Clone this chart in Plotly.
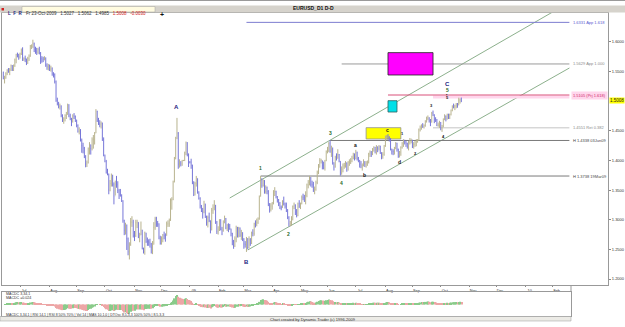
import numpy as np
import pandas as pd
import plotly.graph_objects as go

# ---------------- DATA ----------------
# Daily EURUSD bars, values in pips above 1.0000 (price = 1 + v / 10000)
close_pips = [
    # Jun 2008 (from 12th)
    5380, 5390, 5470, 5520, 5500, 5530, 5600, 5540, 5600, 5700, 5790, 5780, 5750,
    # Jul 2008
    5800, 5860, 5700, 5720, 5710, 5640, 5720, 5760, 5930, 5930, 5970, 5880, 5850, 5830, 5870, 5810, 5720, 5710, 5710, 5730, 5610, 5580, 5600,
    # Aug 2008
    5540, 5560, 5460, 5450, 5330, 5010, 4960, 4910, 4920, 4760, 4680, 4700, 4760, 4780, 4940, 4750, 4700, 4660, 4750, 4740, 4680,
    # Sep 2008
    4590, 4490, 4510, 4340, 4250, 4210, 4070, 3940, 3960, 4200, 4270, 4200, 4350, 4360, 4460, 4830, 4680, 4620, 4610, 4630, 4350, 4090,
    # Oct 2008
    3980, 3790, 3770, 3500, 3610, 3690, 3590, 3400, 3600, 3590, 3490, 3420, 3410, 3320, 2990, 2820, 2910, 2680, 2460, 2580, 2960, 2960, 2730,
    # Nov 2008
    2730, 2950, 2960, 2710, 2740, 2830, 2510, 2460, 2780, 2630, 2630, 2620, 2590, 2530, 2580, 2870, 3020, 2930, 2930, 2690,
    # Dec 2008
    2600, 2680, 2740, 2730, 2730, 2930, 2930, 2990, 3330, 3340, 3640, 4030, 4380, 4460, 3940, 3960, 3940, 4000, 4000, 4130, 4300, 4100, 3970,
    # Jan 2009
    3970, 3920, 3620, 3420, 3610, 3700, 3470, 3360, 3230, 3140, 3130, 3270, 3050, 2950, 3040, 2990, 2830, 3160, 3200, 3250, 2950, 2800,
    # Feb 2009
    2830, 2990, 2840, 2810, 2960, 3020, 2860, 2900, 2890, 2850, 2770, 2630, 2560, 2680, 2860, 2730, 2860, 2740, 2780, 2670,
    # Mar 2009
    2590, 2580, 2680, 2530, 2660, 2600, 2780, 2770, 2930, 2920, 2950, 3020, 3390, 3690, 3580, 3660, 3480, 3540, 3480, 3270, 3170, 3230,
    # Apr 2009
    3270, 3470, 3480, 3390, 3330, 3270, 3200, 3200, 3310, 3270, 3230, 3150, 3040, 2930, 2960, 3000, 3230, 3250, 3130, 3070, 3270, 3230,
    # May 2009
    3270, 3380, 3370, 3330, 3410, 3590, 3630, 3710, 3600, 3590, 3480, 3510, 3630, 3800, 3880, 4000, 4000, 3920, 3870, 3990, 4150,
    # Jun 2009
    4170, 4290, 4160, 4190, 3960, 3890, 4050, 4040, 4100, 3990, 3790, 3850, 3910, 3910, 3950, 3840, 3970, 3970, 3990, 4040, 4090, 4030,
    # Jul 2009
    4130, 4030, 4000, 3940, 3910, 3920, 3960, 3940, 3960, 3970, 4110, 4130, 4110, 4190, 4220, 4180, 4220, 4200, 4240, 4130, 4070, 4100, 4250,
    # Aug 2009
    4400, 4410, 4390, 4360, 4190, 4150, 4150, 4210, 4290, 4190, 4070, 4140, 4220, 4290, 4330, 4310, 4290, 4230, 4310, 4330, 4340,
    # Sep 2009
    4240, 4270, 4300, 4320, 4340, 4520, 4550, 4600, 4570, 4590, 4660, 4710, 4720, 4670, 4640, 4800, 4770, 4700, 4680, 4590, 4600, 4640,
    # Oct 2009 (to 23rd)
    4530, 4580, 4700, 4750, 4700, 4780, 4720, 4780, 4850, 4920, 4900, 4920, 4950, 4940, 5020, 5038, 5008,
]
high_pips = [
    5500, 5430, 5490, 5540, 5560, 5560, 5620, 5610, 5620, 5720, 5800, 5820, 5800,
    5820, 5890, 5910, 5740, 5770, 5720, 5750, 5790, 5950, 5960, 6038, 5990, 5920, 5900, 5900, 5920, 5830, 5760, 5750, 5760, 5740, 5640, 5630,
    5620, 5600, 5570, 5490, 5470, 5350, 5060, 4990, 4960, 4930, 4780, 4730, 4780, 4820, 4960, 4950, 4790, 4720, 4780, 4800, 4760,
    4690, 4610, 4560, 4530, 4370, 4300, 4230, 4090, 4000, 4220, 4310, 4270, 4390, 4430, 4480, 4867, 4840, 4720, 4680, 4660, 4640, 4390,
    4100, 4010, 3860, 3780, 3670, 3780, 3760, 3630, 3660, 3740, 3650, 3520, 3520, 3430, 3330, 3000, 2950, 2920, 2700, 2620, 3030, 3060, 3000,
    2810, 3000, 3000, 2960, 2780, 2970, 2830, 2530, 2800, 2780, 2700, 2670, 2680, 2610, 2640, 2960, 3050, 3050, 2980, 2940,
    2730, 2720, 2760, 2800, 2770, 2970, 2990, 3020, 3360, 3380, 3660, 4060, 4400, 4719, 4480, 4020, 3990, 4010, 4010, 4150, 4320, 4310, 4120,
    3990, 4030, 3930, 3650, 3640, 3740, 3700, 3480, 3380, 3250, 3200, 3320, 3270, 3070, 3070, 3120, 2990, 3200, 3260, 3330, 3250, 2980,
    2890, 3010, 3010, 2880, 2990, 3070, 3030, 2930, 2940, 2930, 2850, 2780, 2660, 2720, 2900, 2880, 2880, 2870, 2830, 2790,
    2690, 2640, 2710, 2690, 2720, 2690, 2800, 2840, 2950, 2990, 3020, 3040, 3410, 3738, 3700, 3680, 3670, 3580, 3560, 3500, 3280, 3280,
    3300, 3500, 3550, 3490, 3400, 3350, 3300, 3240, 3330, 3390, 3290, 3290, 3180, 3060, 2980, 3060, 3240, 3290, 3260, 3180, 3290, 3330,
    3290, 3410, 3440, 3420, 3480, 3610, 3670, 3740, 3720, 3660, 3640, 3560, 3660, 3830, 3940, 4040, 4030, 4000, 3980, 4010, 4170,
    4230, 4310, 4338, 4250, 4220, 3970, 4080, 4120, 4190, 4110, 3990, 3900, 3950, 3960, 3990, 3970, 3990, 4020, 4040, 4080, 4130, 4120,
    4180, 4150, 4060, 4010, 3990, 3950, 4020, 3990, 3990, 4000, 4130, 4170, 4160, 4210, 4240, 4230, 4260, 4240, 4260, 4250, 4140, 4140, 4260,
    4420, 4430, 4445, 4410, 4380, 4200, 4190, 4230, 4310, 4300, 4200, 4160, 4240, 4310, 4360, 4350, 4330, 4300, 4330, 4380, 4370,
    4350, 4310, 4330, 4360, 4360, 4540, 4590, 4610, 4630, 4610, 4680, 4740, 4760, 4730, 4700, 4820, 4843, 4780, 4730, 4700, 4640, 4670,
    4650, 4600, 4710, 4780, 4760, 4790, 4790, 4790, 4860, 4930, 4960, 4940, 4970, 4970, 5060, 5046, 5062,
]
low_pips = [
    5370, 5300, 5380, 5440, 5480, 5440, 5510, 5510, 5510, 5580, 5640, 5740, 5700,
    5720, 5780, 5680, 5680, 5660, 5610, 5630, 5680, 5750, 5880, 5900, 5830, 5800, 5780, 5800, 5790, 5630, 5650, 5660, 5690, 5580, 5530, 5520,
    5510, 5500, 5430, 5400, 5300, 4990, 4930, 4880, 4860, 4730, 4650, 4620, 4660, 4700, 4770, 4730, 4680, 4580, 4640, 4700, 4650,
    4560, 4470, 4440, 4320, 4130, 4120, 4040, 3885, 3890, 3950, 4100, 4100, 4170, 4200, 4270, 4460, 4650, 4600, 4560, 4540, 4330, 4070,
    3970, 3780, 3750, 3430, 3480, 3560, 3560, 3260, 3410, 3540, 3450, 3350, 3390, 3300, 2950, 2740, 2750, 2490, 2400, 2330, 2560, 2880, 2700,
    2640, 2710, 2860, 2690, 2620, 2740, 2500, 2430, 2410, 2610, 2560, 2560, 2530, 2430, 2420, 2580, 2830, 2880, 2880, 2670,
    2580, 2580, 2620, 2670, 2630, 2730, 2880, 2880, 2980, 3170, 3330, 3630, 4020, 4360, 3860, 3880, 3900, 3910, 3990, 3990, 4090, 4070, 3890,
    3950, 3860, 3600, 3400, 3410, 3560, 3440, 3340, 3190, 3130, 3020, 3110, 3030, 2900, 2870, 2960, 2770, 2820, 3100, 3160, 2930, 2760,
    2750, 2810, 2820, 2740, 2800, 2940, 2840, 2810, 2790, 2830, 2720, 2570, 2510, 2540, 2620, 2700, 2700, 2710, 2660, 2640,
    2510, 2530, 2457, 2500, 2520, 2560, 2590, 2720, 2730, 2870, 2890, 2930, 3000, 3390, 3540, 3560, 3440, 3440, 3430, 3230, 3120, 3140,
    3170, 3260, 3400, 3360, 3290, 3230, 3180, 3160, 3200, 3240, 3190, 3130, 3010, 2886, 2890, 2900, 2990, 3180, 3080, 3040, 3060, 3200,
    3180, 3260, 3330, 3300, 3260, 3380, 3530, 3580, 3560, 3540, 3470, 3430, 3490, 3600, 3770, 3880, 3950, 3850, 3850, 3830, 3990,
    4120, 4140, 4130, 4060, 3930, 3830, 3880, 4000, 4030, 3970, 3746, 3760, 3800, 3860, 3880, 3810, 3830, 3910, 3940, 3970, 4020, 4000,
    4020, 4000, 3970, 3880, 3870, 3830, 3900, 3890, 3880, 3910, 3950, 4060, 4060, 4090, 4150, 4120, 4100, 4140, 4170, 4110, 4020, 4030, 4080,
    4230, 4350, 4350, 4320, 4170, 4100, 4090, 4100, 4190, 4150, 4045, 4050, 4080, 4200, 4230, 4270, 4230, 4200, 4170, 4270, 4290,
    4210, 4200, 4230, 4240, 4300, 4330, 4490, 4520, 4550, 4540, 4570, 4640, 4680, 4640, 4580, 4640, 4750, 4630, 4650, 4580, 4570, 4550,
    4510, 4483, 4560, 4680, 4660, 4690, 4700, 4700, 4760, 4830, 4880, 4850, 4880, 4890, 4930, 4960, 4985,
]
first_open_pips = 5490
bar_dates = pd.bdate_range("2008-06-12", "2009-10-23")

# Month tick labels (first business day of each month)
month_labels = ["Jul", "Aug", "Sep", "Oct", "Nov", "Dec", "09", "Feb", "Mar", "Apr",
                "May", "Jun", "Jul", "Aug", "Sep", "Oct", "Nov", "Dec", "10", "Feb"]
month_ticks = pd.date_range("2008-07-01", "2010-02-01", freq="BMS")
# 1.5000 sits under the yellow last-price tag, so it is not listed
price_ticks = [1.20, 1.25, 1.30, 1.35, 1.40, 1.45, 1.55, 1.60]

# Horizontal projection / reference levels
level_price = [1.6331, 1.5629, 1.5105, 1.4551, 1.4338, 1.3738]
level_start = ["2009-03-04", "2009-06-16", "2009-08-05", "2009-09-23", "2009-06-03", "2009-03-19"]
level_end = "2010-02-18"
level_text = ["1.6331 App 1.618", "1.5629 App 1.000", "1.5105 (Prj 1.618)",
              "1.4551 Ret 0.382", "H 1.4338 03Jun09", "H 1.3738 19Mar09"]

# Channel lines (two points each)
channel_dates = [["2009-02-13", "2010-02-01"], ["2009-03-05", "2010-02-18"]]
channel_prices = [[1.3367, 1.6506], [1.2490, 1.5561]]

# Time/price boxes: (start, end, low, high)
box_x0 = ["2009-08-05", "2009-08-05", "2009-07-13"]
box_x1 = ["2009-09-23", "2009-08-14", "2009-08-19"]
box_y0 = [1.5443, 1.4818, 1.4363]
box_y1 = [1.5820, 1.5009, 1.4554]
zone_x = ["2009-09-23", "2010-02-18"]
zone_y = [1.5045, 1.5098]

# Wave labels
wave_text = ["A", "B", "1", "2", "3", "4", "a", "b", "c", "d", "1", "2", "3", "4", "C", "5", "•", "5"]
wave_date = ["2008-12-18", "2009-03-04", "2009-03-19", "2009-04-20", "2009-06-03", "2009-06-16",
             "2009-07-01", "2009-07-10", "2009-08-05", "2009-08-18", "2009-08-20", "2009-09-03",
             "2009-09-22", "2009-10-05", "2009-10-08", "2009-10-08", "2009-10-08", "2009-10-08"]
wave_price = [1.4903, 1.2287, 1.3873, 1.2760, 1.4464, 1.3620, 1.4262, 1.3755, 1.4515, 1.3975,
              1.4464, 1.4110, 1.4920, 1.4397, 1.5291, 1.5190, 1.5122, 1.5055]
wave_kind = ["big", "big", "num", "num", "num", "num", "low", "low", "low", "low",
             "small", "small", "small", "small", "big", "num", "small", "small"]

last_price = 1.5008

# ---------------- STYLE ----------------
BLUE = "#7676d8"
KHAKI = "#b8b38e"
FONT = "Liberation Sans"
level_color = ["#7d7dd0", "#9a9a9a", "#d9507a", "#c4c4c4", "#7a7a7a", "#7a7a7a"]
box_fill = ["#ff00ff", "#00e0e8", "#ffff00"]
box_line = ["#202020", "#306060", "#909090"]
kind_style = {"big": ("#1c1c80", 6), "num": ("#2a6a2a", 5), "low": ("#111111", 5), "small": ("#111111", 4)}

W, H = 625, 327
def px(x): return x / W
def py(y): return 1 - y / H

n = min(len(bar_dates), len(close_pips), len(high_pips), len(low_pips))
dates = bar_dates[:n]
c = [1 + v / 10000 for v in close_pips[:n]]
h = [1 + v / 10000 for v in high_pips[:n]]
l = [1 + v / 10000 for v in low_pips[:n]]
o = [1 + first_open_pips / 10000] + c[:-1]

# MACD 3,34 of the closes (indicator derived from the price series)
cs = pd.Series(c)
macd = (cs.ewm(span=3, adjust=False).mean() - cs.ewm(span=34, adjust=False).mean()).tolist()
macd_col = ["#8acb8a" if i == 0 or macd[i] >= macd[i - 1] else "#eda6a6" for i in range(n)]

fig = go.Figure()
fig.add_trace(go.Ohlc(
    x=dates, open=o, high=h, low=l, close=c,
    increasing=dict(line=dict(color=KHAKI, width=1)),
    decreasing=dict(line=dict(color=BLUE, width=1)),
    tickwidth=0.15, hoverinfo="skip", xaxis="x", yaxis="y"))
fig.add_trace(go.Bar(x=dates, y=macd, marker=dict(color=macd_col, line=dict(width=0)),
                     xaxis="x2", yaxis="y2", hoverinfo="skip"))

shapes = []
for d, p in zip(channel_dates, channel_prices):
    shapes.append(dict(type="line", xref="x", yref="y", x0=d[0], x1=d[1], y0=p[0], y1=p[1],
                       line=dict(color="#6e9c6e", width=0.8), layer="below"))
shapes.append(dict(type="rect", xref="x", yref="y", x0=zone_x[0], x1=zone_x[1], y0=zone_y[0], y1=zone_y[1],
                   fillcolor="#ffd6ec", line=dict(width=0), layer="below"))
for p, s, col in zip(level_price, level_start, level_color):
    shapes.append(dict(type="line", xref="x", yref="y", x0=s, x1=level_end, y0=p, y1=p,
                       line=dict(color=col, width=1), layer="below"))
for x0, x1, y0, y1, fc, lc in zip(box_x0, box_x1, box_y0, box_y1, box_fill, box_line):
    shapes.append(dict(type="rect", xref="x", yref="y", x0=x0, x1=x1, y0=y0, y1=y1,
                       fillcolor=fc, line=dict(color=lc, width=0.8), layer="below"))
shapes += [
    dict(type="line", xref="paper", yref="paper", x0=0, x1=1, y0=py(0.5), y1=py(0.5), line=dict(color="#9a9a9a", width=1)),
    dict(type="rect", xref="paper", yref="paper", x0=0, x1=1, y0=py(12.5), y1=py(5.5), fillcolor="#d6d3cc", line=dict(width=0)),
    dict(type="rect", xref="paper", yref="paper", x0=px(1.5), x1=px(4), y0=py(10.5), y1=py(8), fillcolor="#d02020", line=dict(width=0)),
    dict(type="rect", xref="paper", yref="paper", x0=px(22), x1=px(155), y0=py(12), y1=py(6.5), fillcolor="#fffbe0", line=dict(color="#a0a0a0", width=0.5)),
    dict(type="line", xref="paper", yref="paper", x0=px(571), x1=px(571), y0=py(292), y1=py(285), line=dict(color="#999", width=1)),
    dict(type="rect", xref="paper", yref="paper", x0=0, x1=px(571), y0=py(321), y1=py(316.5), fillcolor="#ecebe6", line=dict(color="#9a9a9a", width=0.5)),
]

ann = []
ann.append(dict(x=px(313), y=py(3), xref="paper", yref="paper", text="<b>EURUSD_D1 D-D</b>",
                showarrow=False, font=dict(size=5, color="#111", family=FONT)))
ann.append(dict(x=px(6), y=py(9.3), xref="paper", yref="paper", xanchor="left", text="<b>L  F  R</b>",
                showarrow=False, font=dict(size=4.5, color="#1c1c80", family=FONT)))
ann.append(dict(x=px(24), y=py(9.3), xref="paper", yref="paper", xanchor="left",
                text="Fr 23-Oct-2009   1.5027   1.5062   1.4985   <span style='color:#d02020'>1.5008   -0.0030</span>",
                showarrow=False, font=dict(size=4.5, color="#333", family=FONT)))
ann.append(dict(x=px(158), y=py(9.3), xref="paper", yref="paper", text="<b>+</b>",
                showarrow=False, font=dict(size=7, color="#111", family=FONT)))
for p, t, col in zip(level_price, level_text, level_color):
    tc = "#d02a6a" if "Prj" in t else ("#5a5ad0" if "App 1.618" in t else ("#444" if t.startswith("H") else "#8a8a8a"))
    ann.append(dict(x=level_end, y=p, xref="x", yref="y", xanchor="left", xshift=2, text=t, showarrow=False,
                    bgcolor="#ffd6ec" if "Prj" in t else None,
                    font=dict(size=4, color=tc, family=FONT)))
for t, d, p, k in zip(wave_text, wave_date, wave_price, wave_kind):
    col, sz = kind_style[k]
    ann.append(dict(x=d, y=p, xref="x", yref="y", text="<b>%s</b>" % t, showarrow=False,
                    font=dict(size=sz, color=col, family=FONT)))
ann.append(dict(x=px(609), y=last_price, xref="paper", yref="y", xanchor="left", text="1.5008",
                showarrow=False, bgcolor="#ffff00", borderpad=0, font=dict(size=4.5, color="#222", family=FONT)))
ann.append(dict(x=px(4), y=py(298), xref="paper", yref="paper", xanchor="left", text="MACDC 3,34,1",
                showarrow=False, font=dict(size=3.6, color="#333", family=FONT)))
ann.append(dict(x=px(4), y=py(302), xref="paper", yref="paper", xanchor="left", text="MACDC =0.024",
                showarrow=False, font=dict(size=3.6, color="#333", family=FONT)))
ann.append(dict(x=px(4), y=py(318.7), xref="paper", yref="paper", xanchor="left",
                text="MACDC 3,34,1 | RSI 14,1 | RSI 8 50% 70% | Vol 14 | MAS 10,1,0 | DTOsc 8,5,3,3 100% 50% | 8,5,3,3",
                showarrow=False, font=dict(size=3.5, color="#333", family=FONT)))
ann.append(dict(x=px(313), y=py(324), xref="paper", yref="paper",
                text="Chart created by Dynamic Trader (c) 1996-2009",
                showarrow=False, font=dict(size=4, color="#333", family=FONT)))

fig.update_layout(
    width=W, height=H, margin=dict(l=0, r=0, t=0, b=0),
    paper_bgcolor="white", plot_bgcolor="white", showlegend=False, hovermode=False,
    bargap=0.15, shapes=shapes, annotations=ann,
    xaxis=dict(domain=[px(2), px(608)], range=["2008-06-11", "2010-04-01"],
               rangebreaks=[dict(bounds=["sat", "mon"])], rangeslider=dict(visible=False),
               tickvals=list(month_ticks), ticktext=month_labels, ticklabelshift=4, ticklabelstandoff=0,
               ticks="outside", ticklen=1, tickcolor="#888",
               tickfont=dict(size=3.8, color="#333", family=FONT),
               showgrid=False, zeroline=False, showline=True, mirror=True, linecolor="#999", linewidth=1,
               anchor="y"),
    yaxis=dict(domain=[py(285), py(13)], range=[1.1899, 1.6489], side="right",
               tickvals=price_ticks, tickformat=".4f", ticks="outside", ticklen=2, tickcolor="#888",
               tickfont=dict(size=4, color="#333", family=FONT),
               showgrid=False, zeroline=False, showline=True, mirror=True, linecolor="#999", linewidth=1,
               anchor="x"),
    xaxis2=dict(domain=[px(2), px(571)], range=["2008-06-11", "2010-02-19"],
                rangebreaks=[dict(bounds=["sat", "mon"])], showticklabels=False, ticks="",
                showgrid=False, zeroline=False, showline=True, mirror=True, linecolor="#999", linewidth=1,
                anchor="y2"),
    yaxis2=dict(domain=[py(316), py(292)], range=[-0.128, 0.138], showticklabels=False, ticks="",
                showgrid=False, zeroline=False, showline=True, mirror=True, linecolor="#999", linewidth=1,
                anchor="x2"),
)

fig.write_html("out.html")
